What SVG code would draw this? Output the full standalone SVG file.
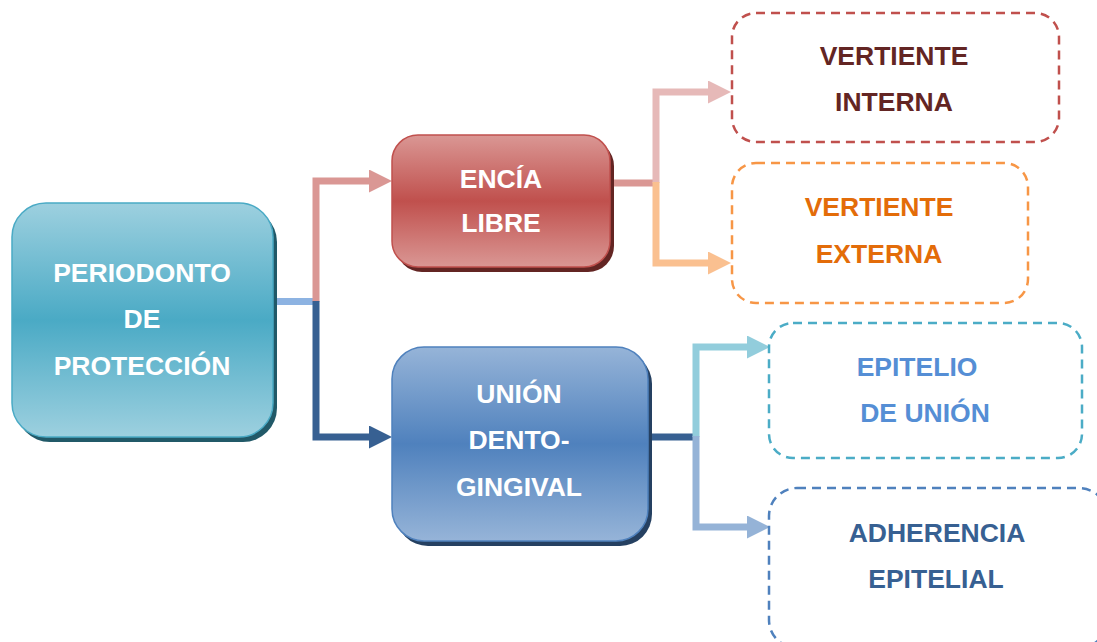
<svg xmlns="http://www.w3.org/2000/svg" width="1097" height="642" viewBox="0 0 1097 642">
  <style>
    text { font-family: "Liberation Sans", Arial, sans-serif; font-weight: bold; font-size: 26.5px; text-anchor: middle; }
    .white { fill: #ffffff; }
    .conn { fill: none; stroke-width: 7; stroke-linejoin: miter; }
    .dash { fill: #ffffff; stroke-width: 2.5; stroke-dasharray: 9 6; }
  </style>
  <defs>
    <linearGradient id="gTeal" x1="0" y1="0" x2="0" y2="1">
      <stop offset="0" stop-color="#9dd0df"/>
      <stop offset="0.5" stop-color="#4aaac5"/>
      <stop offset="1" stop-color="#9dd0df"/>
    </linearGradient>
    <linearGradient id="gRed" x1="0" y1="0" x2="0" y2="1">
      <stop offset="0" stop-color="#da9794"/>
      <stop offset="0.5" stop-color="#c0504d"/>
      <stop offset="1" stop-color="#da9794"/>
    </linearGradient>
    <linearGradient id="gBlue" x1="0" y1="0" x2="0" y2="1">
      <stop offset="0" stop-color="#96b4d8"/>
      <stop offset="0.5" stop-color="#4f81bd"/>
      <stop offset="1" stop-color="#96b4d8"/>
    </linearGradient>
    <marker id="aPink" markerUnits="userSpaceOnUse" markerWidth="24" markerHeight="24" refX="2" refY="11.5" orient="auto">
      <path d="M0,0 L23,11.5 L0,23 Z" fill="#da9794"/>
    </marker>
    <marker id="aNavy" markerUnits="userSpaceOnUse" markerWidth="24" markerHeight="24" refX="2" refY="11.5" orient="auto">
      <path d="M0,0 L23,11.5 L0,23 Z" fill="#376092"/>
    </marker>
    <marker id="aRose" markerUnits="userSpaceOnUse" markerWidth="24" markerHeight="24" refX="2" refY="11.5" orient="auto">
      <path d="M0,0 L23,11.5 L0,23 Z" fill="#e6b9b8"/>
    </marker>
    <marker id="aPeach" markerUnits="userSpaceOnUse" markerWidth="24" markerHeight="24" refX="2" refY="11.5" orient="auto">
      <path d="M0,0 L23,11.5 L0,23 Z" fill="#fac090"/>
    </marker>
    <marker id="aCyan" markerUnits="userSpaceOnUse" markerWidth="24" markerHeight="24" refX="2" refY="11.5" orient="auto">
      <path d="M0,0 L23,11.5 L0,23 Z" fill="#92cddc"/>
    </marker>
    <marker id="aSky" markerUnits="userSpaceOnUse" markerWidth="24" markerHeight="24" refX="2" refY="11.5" orient="auto">
      <path d="M0,0 L23,11.5 L0,23 Z" fill="#95b3d7"/>
    </marker>
  </defs>

  <rect width="1097" height="642" fill="#ffffff"/>

  <!-- connectors -->
  <g id="connectors">
    <path class="conn" stroke="#8db3e2" d="M273,301.5 H313"/>
    <path class="conn" stroke="#da9794" d="M316,302 V181 H371" marker-end="url(#aPink)"/>
    <path class="conn" stroke="#376092" d="M316,301 V437 H371" marker-end="url(#aNavy)"/>

    <path class="conn" stroke="#da9794" d="M610,183 H653"/>
    <path class="conn" stroke="#e6b9b8" d="M656,183 V92 H710" marker-end="url(#aRose)"/>
    <path class="conn" stroke="#fac090" d="M656,182 V263 H710" marker-end="url(#aPeach)"/>

    <path class="conn" stroke="#376092" d="M648,437 H693"/>
    <path class="conn" stroke="#92cddc" d="M696,437 V347 H749" marker-end="url(#aCyan)"/>
    <path class="conn" stroke="#95b3d7" d="M696,436 V527 H749" marker-end="url(#aSky)"/>
  </g>

  <!-- root node -->
  <g id="periodonto">
    <rect x="16" y="208" width="261" height="234" rx="34" fill="#215968"/>
    <rect x="12" y="203" width="261" height="234" rx="34" fill="url(#gTeal)" stroke="#4aaac5" stroke-width="1.5"/>
    <text class="white" x="142" y="282">PERIODONTO</text>
    <text class="white" x="142" y="328">DE</text>
    <text class="white" x="142" y="375">PROTECCIÓN</text>
  </g>

  <g id="encia">
    <rect x="396" y="140" width="218" height="132" rx="26" fill="#632523"/>
    <rect x="392" y="135" width="218" height="132" rx="26" fill="url(#gRed)" stroke="#c0504d" stroke-width="1.5"/>
    <text class="white" x="501" y="188">ENCÍA</text>
    <text class="white" x="501" y="232">LIBRE</text>
  </g>

  <g id="union">
    <rect x="396" y="352" width="256" height="194" rx="32" fill="#254061"/>
    <rect x="392" y="347" width="256" height="194" rx="32" fill="url(#gBlue)" stroke="#4f81bd" stroke-width="1.5"/>
    <text class="white" x="519" y="403">UNIÓN</text>
    <text class="white" x="519" y="449">DENTO-</text>
    <text class="white" x="519" y="496">GINGIVAL</text>
  </g>

  <!-- leaf nodes -->
  <g id="vertiente-interna">
    <rect class="dash" x="732" y="13" width="327" height="129" rx="24" stroke="#c0504d"/>
    <text x="894" y="65" fill="#632523">VERTIENTE</text>
    <text x="894" y="111" fill="#632523">INTERNA</text>
  </g>

  <g id="vertiente-externa">
    <rect class="dash" x="732" y="163" width="296" height="140" rx="24" stroke="#f79646"/>
    <text x="879" y="216" fill="#e36c09">VERTIENTE</text>
    <text x="879" y="263" fill="#e36c09">EXTERNA</text>
  </g>

  <g id="epitelio-union">
    <rect class="dash" x="769" y="323" width="313" height="135" rx="24" stroke="#4bacc6"/>
    <text x="917" y="376" fill="#558ed5">EPITELIO</text>
    <text x="925" y="422" fill="#558ed5">DE UNIÓN</text>
  </g>

  <g id="adherencia">
    <rect class="dash" x="769" y="488" width="338" height="160" rx="28" stroke="#4f81bd"/>
    <text x="937" y="542" fill="#376092">ADHERENCIA</text>
    <text x="936" y="588" fill="#376092">EPITELIAL</text>
  </g>
</svg>
